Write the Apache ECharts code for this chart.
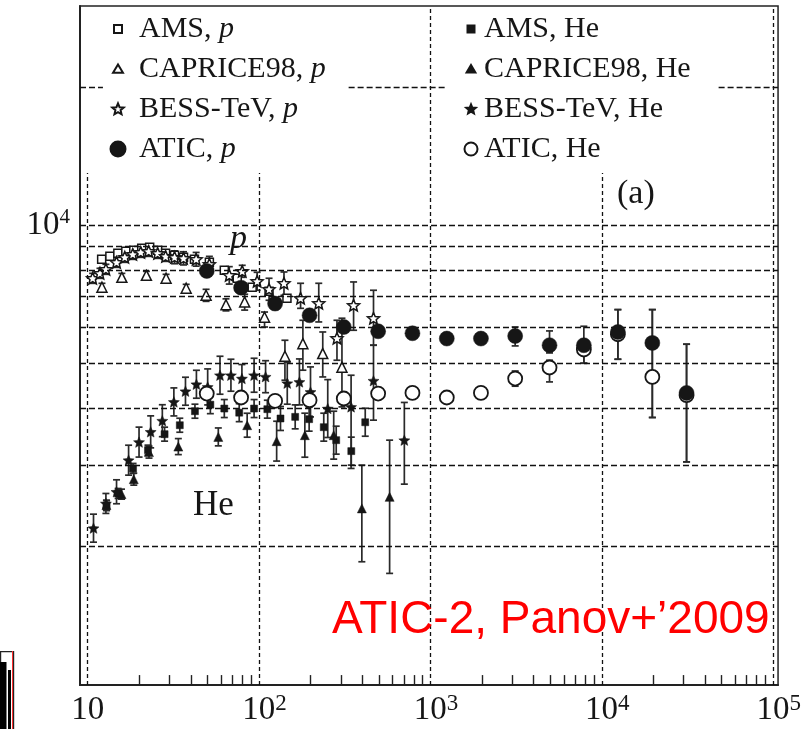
<!DOCTYPE html>
<html>
<head>
<meta charset="utf-8">
<script src="https://cdn.jsdelivr.net/npm/echarts@6.0.0/dist/echarts.min.js"></script>
<style>
html,body{margin:0;padding:0;background:#ffffff;}
#chart{width:804px;height:729px;}
</style>
</head>
<body>
<div id="chart"></div>
<script>
// ===================== DATA (E in GeV, flux values) =====================
// AMS protons (open squares)
const amsP_E = [12.06, 13.47, 14.99, 16.69, 18.57, 20.66, 22.99, 25.59, 28.47, 32.12, 36.23, 41.96, 51.27, 62.66, 74.55, 91.1, 114.3, 145.4];
const amsP_F = [8435, 8562, 8692, 8780, 8825, 8913, 8958, 8825, 8692, 8606, 8521, 8435, 8309, 7985, 7670, 7332, 7187, 6940];

// CAPRICE98 protons (open triangles)
const capP_E  = [12.11, 15.82, 22.0, 28.66, 37.54, 49.06, 64.09, 82.38, 107.6, 141.5, 180.1, 235.2, 304.4];
const capP_F  = [7332, 7707, 7785, 7670, 7295, 7045, 6717, 6811, 6310, 5190, 5527, 5261, 4913];
const capP_lo = [7185, 7553, 7629, 7517, 7149, 6833, 6515, 6540, 6009, 4603, 4840, 4679, 4027];
const capP_hi = [7479, 7861, 7941, 7823, 7441, 7257, 6919, 7080, 6477, 5623, 6215, 5861, 6279];

// BESS-TeV protons (open stars)
const bessP_E  = [10.69, 11.79, 12.77, 14.73, 16.46, 18.32, 20.39, 22.69, 25.59, 28.47, 32.12, 36.23, 42.92, 51.27, 66.98, 79.7, 97.4, 114.3, 139.7, 174.6, 222.9, 284.7, 355.9, 465.1];
const bessP_F  = [7670, 7865, 8025, 8309, 8521, 8649, 8736, 8780, 8692, 8562, 8521, 8478, 8435, 8227, 7785, 7943, 7555, 7259, 7480, 6940, 6767, 5680, 6700, 6279];
const bessP_lo = [7478, 7668, 7824, 8101, 8308, 8433, 8518, 8560, 8475, 8348, 8250, 8200, 8150, 7900, 7450, 7707, 7223, 6871, 7045, 6598, 6163, 5087, 5912, 5485];
const bessP_hi = [7862, 8062, 8226, 8517, 8734, 8865, 8954, 9000, 8909, 8776, 8800, 8760, 8730, 8560, 8130, 8185, 7903, 7670, 7916, 7480, 7480, 6215, 7530, 7223];

// ATIC protons (filled circles) and ATIC helium (open circles)
const atic_E    = [49.5, 78.5, 124, 197, 312, 495, 785, 1245, 1970, 3120, 4950, 7850, 12400, 19700, 31200];
const aticP_F   = [7958, 7319, 6757, 6372, 6009, 5882, 5823, 5671, 5671, 5745, 5485, 5485, 5861, 5549, 4319];
const aticP_lo  = [7840, 7209, 6656, 6276, 5919, 5794, 5736, 5586, 5586, 5466, 5277, 5012, 5113, 3819, 3058];
const aticP_hi  = [8077, 7429, 6858, 6468, 6099, 5970, 5910, 5756, 5756, 6009, 5892, 6031, 6556, 6556, 5513];
const aticHe_F  = [4306, 4221, 4150, 4165, 4200, 4306, 4319, 4221, 4319, 4642, 4906, 5368, 5795, 4679, 4270];
const aticHe_lo = [4241, 4158, 4088, 4103, 4137, 4241, 4254, 4158, 4254, 4467, 4564, 5012, 5113, 3819, 3058];
const aticHe_hi = [4371, 4284, 4212, 4227, 4263, 4371, 4384, 4284, 4384, 4820, 5087, 5623, 6556, 6556, 5513];

// AMS helium (filled squares)
const amsHe_E  = [12.89, 15.05, 18.39, 22.47, 28.09, 34.46, 42.24, 51.95, 62.66, 76.56, 93.5, 111.7, 133.3, 162.4, 195.9, 238.4, 281.8, 345.1, 416.2];
const amsHe_F  = [2456, 2610, 2959, 3243, 3513, 3674, 3941, 4072, 3994, 3912, 3994, 3981, 3800, 3831, 3787, 3638, 3409, 3227, 3729];
const amsHe_lo = [2395, 2546, 2886, 3163, 3392, 3547, 3805, 3893, 3818, 3740, 3818, 3806, 3579, 3608, 3566, 3392, 3178, 3009, 3477];
const amsHe_hi = [2518, 2676, 3034, 3325, 3638, 3805, 4082, 4259, 4178, 4092, 4178, 4164, 4035, 4068, 4021, 3902, 3656, 3461, 4000];

// CAPRICE98 helium (filled triangles)
const capHe_E  = [12.86, 15.75, 18.57, 22.78, 33.79, 57.81, 85.2, 126.6, 184.9, 272.5, 397.7, 577.5];
const capHe_F  = [2462, 2601, 2804, 3211, 3301, 3465, 3674, 3392, 3495, 3495, 2422, 2566];
const capHe_lo = [2401, 2537, 2721, 3116, 3171, 3313, 3460, 3070, 3130, 3100, 1854, 1749];
const capHe_hi = [2524, 2667, 2890, 3309, 3436, 3624, 3901, 3748, 3902, 3941, 3008, 3409];

// BESS-TeV helium (filled stars)
const bessHe_E  = [10.81, 12.77, 14.73, 17.32, 19.93, 23.30, 27.25, 31.82, 37.19, 43.08, 50.11, 59.14, 68.5, 79.38, 93.5, 109.1, 146.0, 171.9, 199.5, 251.5, 344.2, 465.1, 703.8];
const bessHe_F  = [2194, 2483, 2632, 3084, 3376, 3554, 3758, 4129, 4356, 4511, 4451, 4719, 4719, 4642, 4719, 4685, 4535, 4564, 4341, 3994, 4027, 4592, 3409];
const bessHe_lo = [2045, 2362, 2479, 2861, 3132, 3280, 3469, 3849, 4061, 4206, 4067, 4291, 4356, 4328, 4334, 4324, 4082, 4068, 3830, 3455, 2959, 3768, 2735];
const bessHe_hi = [2353, 2610, 2795, 3324, 3639, 3850, 4071, 4429, 4672, 4838, 4871, 5190, 5113, 4979, 5138, 5076, 5038, 5121, 4920, 4617, 4719, 5485, 4118];

// Axes / ticks / grid
const xTicks = [10, 100, 1000, 10000, 100000];
const xTickExp = ['', '2', '3', '4', '5'];
const yTicks = [10000];
const yTickExp = ['4'];
const yGridValues = [2000, 3000, 4000, 5000, 6000, 7000, 8000, 9000, 10000];
const yGridTop = 20000;                                  // partly hidden by the legend boxes
const yGridTopSegments = [[9.016, 12.27], [333, 1217], [48000, 106660]];
const xMinorTicks = [20, 30, 40, 50, 60, 70, 80, 90, 200, 300, 400, 500, 600, 700, 800, 900,
                     2000, 3000, 4000, 5000, 6000, 7000, 8000, 9000, 20000, 30000, 40000, 50000, 60000, 70000, 80000, 90000];
const xFullGrid = [1000, 100000];
const xPartGrid = [10, 100, 10000];

// ===================== STYLE =====================
const SERIF = '"Liberation Serif", "DejaVu Serif", serif';
const INK = '#161616';

function starPath(cx, cy, R, k) {
  let s = '';
  for (let j = 0; j < 10; j++) {
    const r = (j % 2) ? R * k : R;
    const a = (-90 + 36 * j) * Math.PI / 180;
    s += (j ? 'L' : 'M') + (cx + r * Math.cos(a)).toFixed(2) + ',' + (cy + r * Math.sin(a)).toFixed(2);
  }
  return s + 'Z';
}
const BOX = 'M0,0M16,16';
function sqIcon(h) { return 'path://' + BOX + `M${8-h},${8-h}L${8+h},${8-h}L${8+h},${8+h}L${8-h},${8+h}Z`; }
function triIcon(h) { return 'path://' + BOX + `M8,${8-h}L${8+h*1.1},${8+h*0.85}L${8-h*1.1},${8+h*0.85}Z`; }
function starIcon(r) { return 'path://' + BOX + starPath(8, 8.4, r, 0.45); }
function circIcon(r) { return 'path://' + BOX + `M${8-r},8A${r},${r} 0 1,0 ${8+r},8A${r},${r} 0 1,0 ${8-r},8Z`; }
const STAR = 'path://' + starPath(50, 50, 50, 0.45);

function scatter(name, E, F, symbol, size, filled, z) {
  return {
    type: 'scatter', name: name, z: z || 4, symbol: symbol, symbolSize: size, symbolKeepAspect: true,
    data: E.map((e, i) => [e, F[i]]),
    itemStyle: filled ? { color: INK, borderColor: INK, borderWidth: 0.5, opacity: 1 }
                      : { color: '#ffffff', borderColor: INK, borderWidth: 1.5, opacity: 1 },
    emphasis: { disabled: true }, silent: true, animation: false
  };
}
function errors(name, E, lo, hi) {
  return {
    type: 'custom', name: name + ' (err)', z: 3, silent: true, animation: false,
    data: E.map((e, i) => [e, lo[i], hi[i]]),
    encode: { x: 0, y: [1, 2] },
    renderItem: function (params, api) {
      const x = api.value(0);
      const a = api.coord([x, api.value(1)]);
      const b = api.coord([x, api.value(2)]);
      const w = 3.5;
      const st = { stroke: '#2a2a2a', lineWidth: 1.7 };
      return { type: 'group', children: [
        { type: 'line', shape: { x1: a[0], y1: a[1], x2: b[0], y2: b[1] }, style: st },
        { type: 'line', shape: { x1: a[0] - w, y1: a[1], x2: a[0] + w, y2: a[1] }, style: st },
        { type: 'line', shape: { x1: b[0] - w, y1: b[1], x2: b[0] + w, y2: b[1] }, style: st }
      ]};
    }
  };
}

// grid lines (dashed) and minor ticks via markLine
const HDASH = { type: [6, 3], color: '#111', width: 1.3 };
const VDASH = { type: [4, 3], color: '#111', width: 1.3 };
const TICK = { type: 'solid', color: '#222', width: 1.4 };
const gridMarks = [];
yGridValues.forEach(v => gridMarks.push({ yAxis: v, lineStyle: HDASH }));
yGridTopSegments.forEach(s => gridMarks.push([
  { coord: [s[0], yGridTop], lineStyle: HDASH }, { coord: [s[1], yGridTop], lineStyle: HDASH }
]));
xFullGrid.forEach(v => gridMarks.push({ xAxis: v, lineStyle: VDASH }));
xPartGrid.forEach(v => gridMarks.push([
  { coord: [v, 1000], lineStyle: VDASH }, { coord: [v, 13000], lineStyle: VDASH }
]));
xMinorTicks.forEach(v => gridMarks.push([
  { coord: [v, 1000], lineStyle: TICK }, { coord: [v, 1051], lineStyle: TICK }
]));

const series = [
  {
    type: 'scatter', name: 'gridlines', data: [], z: 1, silent: true, animation: false,
    markLine: { silent: true, symbol: ['none', 'none'], label: { show: false }, emphasis: { disabled: true },
                animation: false, data: gridMarks }
  },
  errors('CAPRICE98, p', capP_E, capP_lo, capP_hi),
  errors('BESS-TeV, p', bessP_E, bessP_lo, bessP_hi),
  errors('AMS, He', amsHe_E, amsHe_lo, amsHe_hi),
  errors('CAPRICE98, He', capHe_E, capHe_lo, capHe_hi),
  errors('BESS-TeV, He', bessHe_E, bessHe_lo, bessHe_hi),
  errors('ATIC, He', atic_E, aticHe_lo, aticHe_hi),
  errors('ATIC, p', atic_E, aticP_lo, aticP_hi),
  scatter('AMS, p', amsP_E, amsP_F, 'rect', 8, false),
  scatter('CAPRICE98, p', capP_E, capP_F, 'triangle', 10, false),
  scatter('BESS-TeV, p', bessP_E, bessP_F, STAR, 12, false),
  scatter('AMS, He', amsHe_E, amsHe_F, 'rect', 7, true),
  scatter('CAPRICE98, He', capHe_E, capHe_F, 'triangle', 9, true),
  scatter('BESS-TeV, He', bessHe_E, bessHe_F, STAR, 11, true),
  scatter('ATIC, He', atic_E, aticHe_F, 'circle', 14, false, 5),
  scatter('ATIC, p', atic_E, aticP_F, 'circle', 15, true, 6)
];
series.forEach(s => { if (s.name === 'ATIC, He') s.itemStyle.borderWidth = 1.8; });

const legendText = {
  fontFamily: SERIF, fontSize: 30, color: INK, lineHeight: 30,
  rich: { i: { fontFamily: SERIF, fontSize: 30, fontStyle: 'italic', color: INK, lineHeight: 30 } }
};

const option = {
  backgroundColor: '#ffffff',
  animation: false,
  grid: { left: 80, right: 22, top: 6, bottom: 44, show: true, borderColor: '#222', borderWidth: 1.5, backgroundColor: 'transparent' },
  xAxis: {
    type: 'log', logBase: 10, min: 9.016, max: 106660,
    axisLine: { show: true, onZero: false, lineStyle: { color: '#222', width: 2 } },
    axisTick: { show: false }, splitLine: { show: false }, minorTick: { show: false },
    axisLabel: {
      interval: 0, margin: 7, color: INK, fontFamily: SERIF, fontSize: 33, lineHeight: 36,
      formatter: function (v) {
        const lg = Math.log10(v), k = Math.round(lg);
        if (Math.abs(lg - k) > 1e-6) return '';
        const i = xTicks.indexOf(Math.pow(10, k));
        if (i < 0) return '';
        return xTickExp[i] ? '{p|}10{s|' + xTickExp[i] + '}' : '10';
      },
      rich: {
        s: { fontFamily: SERIF, fontSize: 23, color: INK, verticalAlign: 'top', lineHeight: 23 },
        p: { width: 11 }
      }
    }
  },
  yAxis: {
    type: 'log', logBase: 10, min: 1000, max: 30000,
    axisLine: { show: true, onZero: false, lineStyle: { color: '#222', width: 2 } },
    axisTick: { show: false }, splitLine: { show: false }, minorTick: { show: false },
    axisLabel: {
      margin: 10, color: INK, fontFamily: SERIF, fontSize: 33, lineHeight: 36,
      formatter: function (v) {
        const i = yTicks.findIndex(t => Math.abs(Math.log10(v) - Math.log10(t)) < 1e-6);
        return i < 0 ? '' : '10{s|' + yTickExp[i] + '}';
      },
      rich: { s: { fontFamily: SERIF, fontSize: 21, color: INK, verticalAlign: 'top', lineHeight: 24 } }
    }
  },
  legend: [
    {
      orient: 'vertical', left: 103, top: 9, padding: [5, 15, 8, 6], backgroundColor: '#ffffff',
      itemWidth: 16, itemHeight: 16, itemGap: 10, selectedMode: false, z: 20,
      textStyle: Object.assign({ padding: [0, 0, 0, 8] }, legendText),
      formatter: n => n.replace(', p', ', {i|p}'),
      data: [
        { name: 'AMS, p', icon: sqIcon(4) },
        { name: 'CAPRICE98, p', icon: triIcon(4.5) },
        { name: 'BESS-TeV, p', icon: starIcon(6) },
        { name: 'ATIC, p', icon: circIcon(7.5) }
      ]
    },
    {
      orient: 'vertical', left: 447, top: 9, padding: [5, 19, 8, 15], backgroundColor: '#ffffff',
      itemWidth: 16, itemHeight: 16, itemGap: 10, selectedMode: false, z: 20,
      textStyle: Object.assign({ padding: [0, 0, 0, 0] }, legendText),
      data: [
        { name: 'AMS, He', icon: sqIcon(3.5) },
        { name: 'CAPRICE98, He', icon: triIcon(4) },
        { name: 'BESS-TeV, He', icon: starIcon(5) },
        { name: 'ATIC, He', icon: circIcon(6.5) }
      ]
    }
  ],
  graphic: [
    { type: 'text', left: 230, top: 222, z: 10, style: { text: 'p', fontFamily: SERIF, fontSize: 34, fontStyle: 'italic', fill: INK } },
    { type: 'text', left: 193, top: 488, z: 10, style: { text: 'He', fontFamily: SERIF, fontSize: 35, fill: INK } },
    { type: 'text', left: 617, top: 177, z: 10, style: { text: '(a)', fontFamily: SERIF, fontSize: 34, fill: INK } },
    { type: 'text', left: 332, top: 597, z: 10, style: { text: 'ATIC-2, Panov+\u20192009', fontFamily: '"Liberation Sans", Arial, sans-serif', fontSize: 46, fill: '#ff0000' } },
    { type: 'rect', left: 0, top: 651, z: 10, shape: { width: 13, height: 80 }, style: { fill: '#ffffff', stroke: '#222', lineWidth: 1.2 } },
    { type: 'rect', left: 0, top: 662, z: 11, shape: { width: 6.5, height: 70 }, style: { fill: '#000' } },
    { type: 'rect', left: 8, top: 670, z: 11, shape: { width: 3, height: 60 }, style: { fill: '#000' } },
    { type: 'rect', left: 12, top: 651, z: 11, shape: { width: 1, height: 80 }, style: { fill: '#ff3030' } }
  ],
  series: series
};

const chart = echarts.init(document.getElementById('chart'), null, { renderer: 'canvas', width: 804, height: 729 });
chart.setOption(option);
</script>
</body>
</html>
